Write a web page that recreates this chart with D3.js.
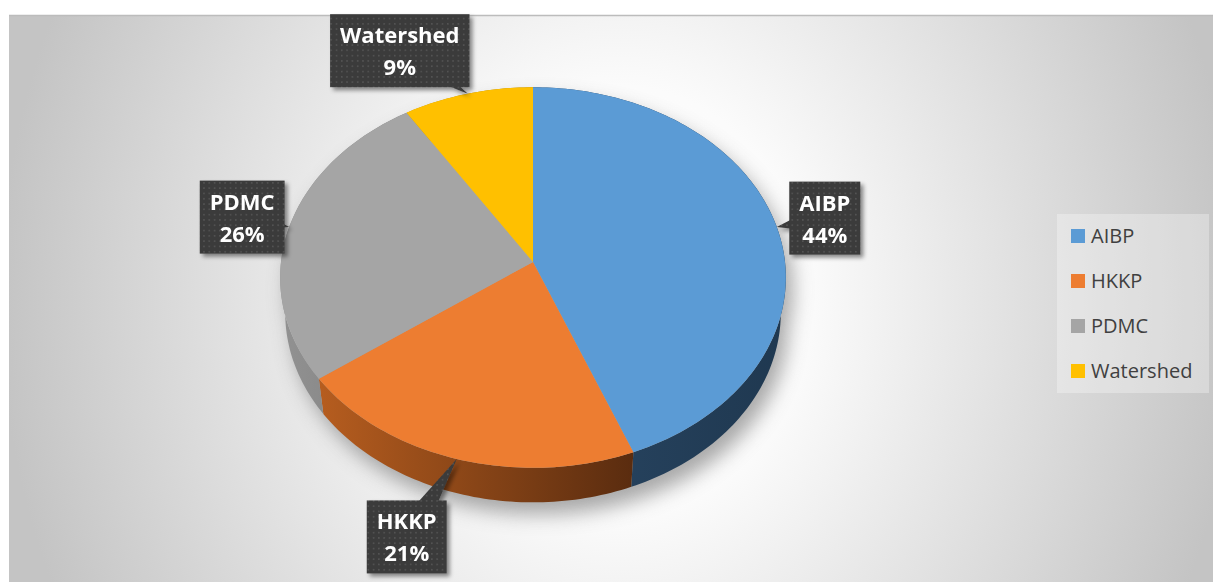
<!DOCTYPE html>
<html>
<head>
<meta charset="utf-8">
<script src="https://cdn.jsdelivr.net/npm/d3@7"></script>
<style>
html, body { margin: 0; padding: 0; background: #fff; overflow: hidden; }
</style>
</head>
<body>
<svg width="1213" height="582"></svg>
<script>
// chart data
var categories = ["AIBP", "HKKP", "PDMC", "Watershed"];
var values = [44, 21, 26, 9];
var percentLabels = ["44%", "21%", "26%", "9%"];

var topColors = ["#5b9bd5", "#ed7d31", "#a5a5a5", "#ffc000"];
var sideColors = [["#294663", "#1f3850"], ["#b65d1f", "#5a2c0f"], ["#929292", "#7d7d7d"], ["#c99700", "#a37a00"]];
// where each data label box sits, relative to the slice's rim point
var labelOffsets = [[48, -9], [-50, 78], [-47, -10], [-68, -43]];

var svg = d3.select("svg"),
    width = +svg.attr("width"),
    height = +svg.attr("height");

var defs = svg.append("defs");

// background radial gradient
var bg = defs.append("radialGradient")
    .attr("id", "bg")
    .attr("gradientUnits", "userSpaceOnUse")
    .attr("cx", 620).attr("cy", 300).attr("r", 620)
    .attr("gradientTransform", "translate(620,300) scale(1,1.15) translate(-620,-300)");
bg.append("stop").attr("offset", 0).attr("stop-color", "#ffffff");
bg.append("stop").attr("offset", 0.3).attr("stop-color", "#fbfbfb");
bg.append("stop").attr("offset", 1).attr("stop-color", "#c4c4c4");

var blur = defs.append("filter").attr("id", "pieShadow")
    .attr("x", "-20%").attr("y", "-20%").attr("width", "140%").attr("height", "140%");
blur.append("feGaussianBlur").attr("stdDeviation", 10);

var boxShadow = defs.append("filter").attr("id", "boxShadow")
    .attr("x", "-20%").attr("y", "-20%").attr("width", "140%").attr("height", "150%");
boxShadow.append("feDropShadow")
    .attr("dx", 3).attr("dy", 3).attr("stdDeviation", 2)
    .attr("flood-color", "#000").attr("flood-opacity", 0.45);

var dots = defs.append("pattern").attr("id", "dots")
    .attr("patternUnits", "userSpaceOnUse")
    .attr("width", 5.3).attr("height", 5.3);
dots.append("rect").attr("width", 5.3).attr("height", 5.3).attr("fill", "#3a3a3a");
dots.append("circle").attr("cx", 2.6).attr("cy", 2.6).attr("r", 0.9).attr("fill", "#575757");

svg.append("rect")
    .attr("x", 9).attr("y", 15)
    .attr("width", width - 9).attr("height", height - 15)
    .attr("fill", "url(#bg)");
svg.append("line")
    .attr("x1", 9).attr("x2", width)
    .attr("y1", 15.5).attr("y2", 15.5)
    .attr("stroke", "#bcbcbc").attr("stroke-width", 1.5);

// tilted pie with a bit of perspective
var cx = 533, cy = 262, R = 252,
    sinT = 0.75, cosT = 0.661, D = 8.1, depth = 0.22;

function project(a, r, down) {
    var X = r * Math.sin(a), Z = -r * Math.cos(a);
    var yw = Z * sinT + down * cosT,
        zw = Z * cosT - down * sinT;
    var s = D / (D - zw);
    return [cx + R * X * s, cy + R * yw * s];
}

function arcPoints(a0, a1, down) {
    var n = Math.max(2, Math.ceil(Math.abs(a1 - a0) / 0.02));
    return d3.range(n + 1).map(function(i) {
        return project(a0 + (a1 - a0) * i / n, 1, down);
    });
}

var pie = d3.pie().sort(null).value(function(d) { return d; });
var slices = pie(values);
var line = d3.line();

// soft shadow under the pie
var sh = svg.append("g")
    .attr("filter", "url(#pieShadow)")
    .attr("opacity", 0.5)
    .attr("transform", "translate(7,12)");
sh.append("path").attr("d", line(arcPoints(0, 2 * Math.PI, depth)) + "Z").attr("fill", "#555");
sh.append("path").attr("d", line(arcPoints(0, 2 * Math.PI, 0)) + "Z").attr("fill", "#555");

// side walls
slices.forEach(function(d, i) {
    var top = arcPoints(d.startAngle, d.endAngle, 0);
    var bot = arcPoints(d.startAngle, d.endAngle, depth).reverse();
    var xs = top.map(function(p) { return p[0]; });
    var g = defs.append("linearGradient")
        .attr("id", "side" + i)
        .attr("gradientUnits", "userSpaceOnUse")
        .attr("x1", d3.min(xs)).attr("x2", d3.max(xs))
        .attr("y1", 0).attr("y2", 0);
    g.append("stop").attr("offset", 0).attr("stop-color", sideColors[i][0]);
    g.append("stop").attr("offset", 1).attr("stop-color", sideColors[i][1]);
    svg.append("path")
        .attr("d", line(top.concat(bot)) + "Z")
        .attr("fill", "url(#side" + i + ")");
});

// top faces
slices.forEach(function(d, i) {
    var pts = [project(0, 0, 0)].concat(arcPoints(d.startAngle, d.endAngle, 0));
    svg.append("path")
        .attr("d", line(pts) + "Z")
        .attr("fill", topColors[i]);
});

// data labels
slices.forEach(function(d, i) {
    var mid = (d.startAngle + d.endAngle) / 2;
    var tip = project(mid, 1, 0);
    var bx = tip[0] + labelOffsets[i][0],
        by = tip[1] + labelOffsets[i][1];
    var g = svg.append("g").attr("filter", "url(#boxShadow)");
    var txt = g.append("g")
        .attr("font-family", "'Open Sans', sans-serif")
        .attr("font-weight", "bold")
        .attr("font-size", 22)
        .attr("fill", "#fff")
        .attr("text-anchor", "middle");
    var t1 = txt.append("text").attr("x", bx).attr("y", by - 7.5).text(categories[i]);
    var t2 = txt.append("text").attr("x", bx).attr("y", by + 24.5).text(percentLabels[i]);
    var w = Math.max(t1.node().getComputedTextLength(), t2.node().getComputedTextLength()) + 20;
    var h = 73;
    // wedge from box centre to the slice
    var dx = tip[0] - bx, dy = tip[1] - by, len = Math.sqrt(dx * dx + dy * dy);
    var px = -dy / len * 15, py = dx / len * 15;
    g.insert("path", "g")
        .attr("d", line([[bx + px, by + py], tip, [bx - px, by - py]]) + "Z")
        .attr("fill", "url(#dots)");
    g.insert("rect", "g")
        .attr("x", bx - w / 2).attr("y", by - h / 2)
        .attr("width", w).attr("height", h)
        .attr("fill", "url(#dots)");
});

// legend
var legend = svg.append("g").attr("transform", "translate(1057,214)");
legend.append("rect")
    .attr("width", 152).attr("height", 179)
    .attr("fill", "#ffffff").attr("opacity", 0.3);
var y = d3.scalePoint().domain(categories).range([22, 157]);
var item = legend.selectAll(".item")
    .data(categories)
    .enter().append("g")
    .attr("class", "item")
    .attr("transform", function(d) { return "translate(14," + y(d) + ")"; });
item.append("rect")
    .attr("x", 0).attr("y", -7).attr("width", 14).attr("height", 14)
    .attr("fill", function(d, i) { return topColors[i]; });
item.append("text")
    .attr("x", 20).attr("y", 7)
    .attr("font-family", "'Open Sans', sans-serif")
    .attr("font-size", 20)
    .attr("fill", "#404040")
    .text(function(d) { return d; });
</script>
</body>
</html>
